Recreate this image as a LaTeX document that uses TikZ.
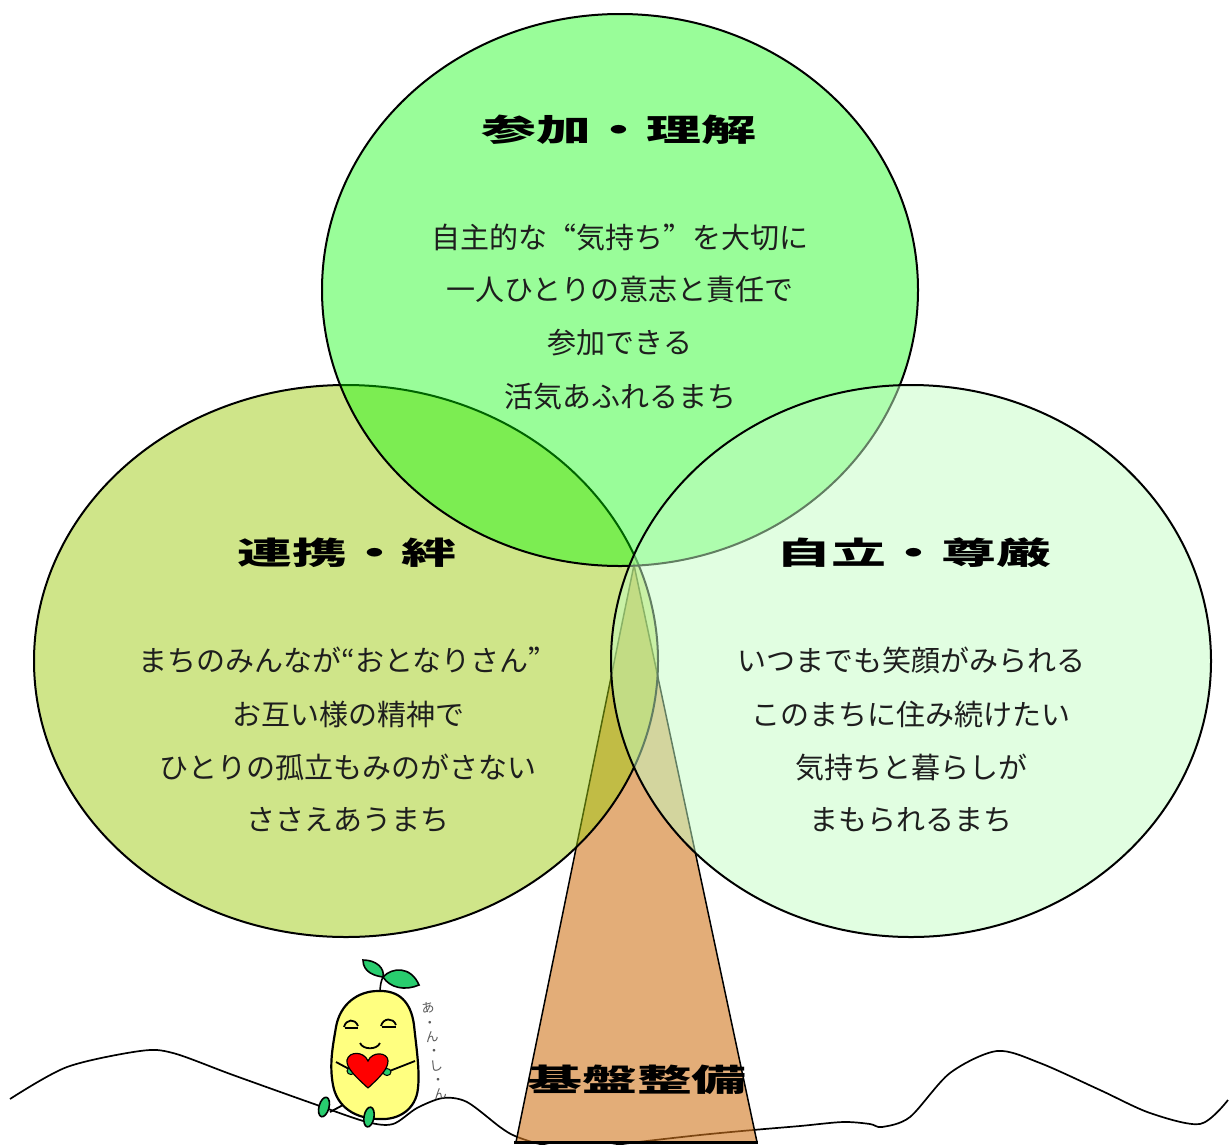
\documentclass[tikz,border=0pt]{standalone}
\usepackage{fontspec}
\usepackage{graphicx}
\usepackage{tikz}

\newfontfamily\jp{Noto Sans CJK JP}
\newfontfamily\jpfull[RawFeature=+fwid]{Noto Sans CJK JP}

\definecolor{trunkbrown}{RGB}{208,118,30}
\definecolor{leftgreen}{RGB}{159,203,19}
\definecolor{topgreen}{RGB}{0,250,0}
\definecolor{rightgreen}{RGB}{196,253,196}
\definecolor{leafgreen}{RGB}{40,205,110}
\definecolor{beanyellow}{RGB}{255,255,128}
\definecolor{textgray}{RGB}{30,30,30}

% wide, heavy headings
\newcommand{\widehead}[1]{\scalebox{1.77}[1]{#1}}

\begin{document}
\begin{tikzpicture}[x=1pt,y=-1pt,
    title/.style={font=\jp\bfseries\fontsize{31}{31}\selectfont, inner sep=0pt},
    bodytext/.style={font=\jpfull\fontsize{29}{29}\selectfont, text=textgray, inner sep=0pt},
    kana/.style={font=\jp\fontsize{13}{14.5}\selectfont, text=black!65, inner sep=0pt},
    leaf/.style={draw=black, line width=1.6pt, fill=leafgreen}]

  \useasboundingbox (0,0) rectangle (1229,1144);

  \begin{scope}
    \clip (0,0) rectangle (1229,1144);
    % ground line
    \draw[line width=1.7pt] plot[smooth] coordinates {(10,1099) (67,1067) (140,1051) (173,1053)
      (233,1075) (317,1105) (367,1122) (393,1124) (417,1108) (443,1098) (467,1102) (500,1127)
      (515,1136) (540,1144) (580,1150) (630,1143) (700,1135) (753,1130) (800,1126) (843,1122)
      (870,1124) (882,1127) (910,1117) (950,1073) (997,1051) (1040,1063) (1100,1090)
      (1150,1113) (1200,1124) (1228,1100)};
    % trunk
    \fill[trunkbrown, fill opacity=0.6] (634,565) -- (757,1142) -- (516,1142) -- cycle;
    \draw[line width=1.5pt] (516,1142) -- (634,565) -- (757,1142);
    \draw[line width=3pt] (514,1142) -- (758,1142);
  \end{scope}

  % the three circles
  \draw[line width=2pt, fill=leftgreen, fill opacity=0.5] (346,661) ellipse [x radius=312, y radius=276];
  \draw[line width=2pt, fill=topgreen, fill opacity=0.4] (620,290) ellipse [x radius=298, y radius=276];
  \draw[line width=2pt, fill=rightgreen, fill opacity=0.5] (911,661) ellipse [x radius=300, y radius=276];

  % top circle
  \node[title] (topTitle) at (619,130) {\widehead{参加・理解}};
  \node[bodytext] (top1) at (620,237) {自主的な“気持ち”を大切に};
  \node[bodytext] (top2) at (620,290) {一人ひとりの意志と責任で};
  \node[bodytext] (top3) at (620,343) {参加できる};
  \node[bodytext] (top4) at (620,397) {活気あふれるまち};

  % left circle
  \node[title] (leftTitle) at (347,553) {\widehead{連携・絆}};
  \node[bodytext] (left1) at (348,660) {まちのみんなが{\jp“}おとなりさん”};
  \node[bodytext] (left2) at (348,714) {お互い様の精神で};
  \node[bodytext] (left3) at (348,767) {ひとりの孤立もみのがさない};
  \node[bodytext] (left4) at (348,820) {ささえあうまち};

  % right circle
  \node[title] (rightTitle) at (914,553) {\widehead{自立・尊厳}};
  \node[bodytext] (right1) at (911,660) {いつまでも笑顔がみられる};
  \node[bodytext] (right2) at (911,714) {このまちに住み続けたい};
  \node[bodytext] (right3) at (911,767) {気持ちと暮らしが};
  \node[bodytext] (right4) at (911,820) {まもられるまち};

  % trunk label
  \node[title] (baseTitle) at (637,1080) {\widehead{基盤整備}};

  % little bean
  \draw[line width=1.6pt] (380,993) .. controls (380,986) and (381,981) .. (383,977);
  \draw[leaf] (383,977) .. controls (376,976) and (363,973) .. (363,960)
    .. controls (376,960) and (385,968) .. (383,977);
  \draw[leaf] (383,977) .. controls (392,967) and (411,966) .. (419,985)
    .. controls (405,991) and (390,988) .. (383,977);
  \draw[line width=2.2pt, fill=beanyellow] (378,991) .. controls (399,990) and (411,1002) .. (414,1025)
    .. controls (416,1045) and (420,1070) .. (418,1088)
    .. controls (416,1110) and (398,1120) .. (380,1119)
    .. controls (355,1119) and (337,1107) .. (333,1085)
    .. controls (329,1064) and (333,1045) .. (336,1027)
    .. controls (340,1004) and (358,991) .. (378,991);
  % closed eyes and smile
  \draw[line width=1.8pt] (344,1027) .. controls (346,1019) and (355,1018) .. (358,1026);
  \draw[line width=1.8pt] (345,1028) -- (358,1028);
  \draw[line width=1.8pt] (381,1026) .. controls (383,1018) and (393,1017) .. (396,1025);
  \draw[line width=1.8pt] (382,1027) -- (396,1027);
  \draw[line width=1.8pt] (360,1043) .. controls (363,1050) and (377,1050) .. (380,1043);
  % arms, hands and heart
  \draw[line width=1.8pt] (336,1062) -- (351,1070);
  \draw[line width=1.8pt] (415,1061) -- (387,1072);
  \draw[leaf, line width=1pt] (351,1071) ellipse [x radius=4, y radius=3.5];
  \draw[leaf, line width=1pt] (387,1072) ellipse [x radius=4, y radius=3.5];
  \draw[line width=1.2pt, fill=red] (368,1088) .. controls (356,1077) and (346,1068) .. (347,1060)
    .. controls (349,1051) and (364,1051) .. (368,1061)
    .. controls (372,1051) and (388,1052) .. (388,1061)
    .. controls (388,1069) and (380,1077) .. (368,1088);
  % legs and feet
  \draw[line width=1.8pt] (343,1105) -- (330,1112);
  \draw[line width=1.8pt] (372,1113) -- (370,1118);
  \draw[leaf, rotate around={-15:(324,1107)}] (324,1107) ellipse [x radius=5, y radius=10];
  \draw[leaf, rotate around={-10:(369,1117)}] (369,1117) ellipse [x radius=5, y radius=10];

  % vertical kana beside the bean
  \node[kana, align=center, rotate=8] (anshin) at (434,1051) {あ\\・\\ん\\・\\し\\・\\ん};

\end{tikzpicture}
\end{document}
